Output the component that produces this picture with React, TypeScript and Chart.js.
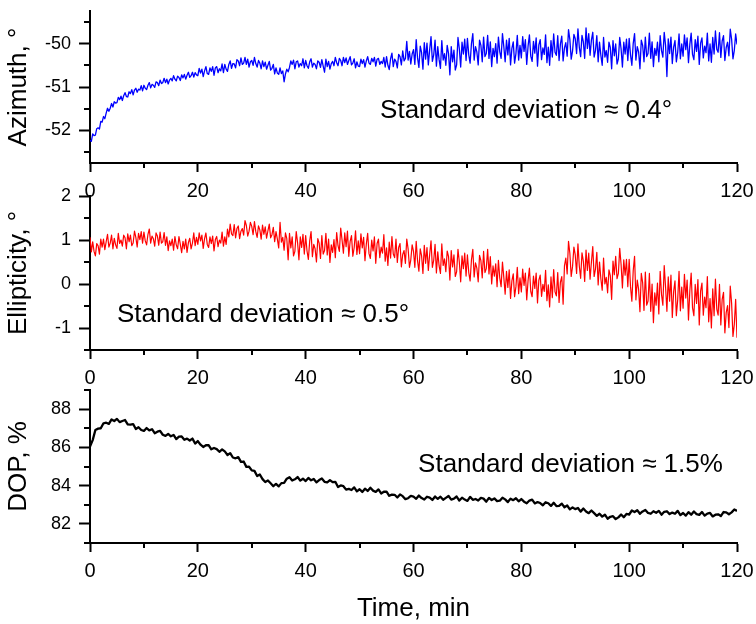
import React, { useEffect, useRef } from 'react';
import { Chart, registerables } from 'chart.js';

Chart.register(...registerables);

const FONT = '"Liberation Sans", Arial, Helvetica, sans-serif';

// sampling interval of each recorded series, minutes
const AZIMUTH_STEP_MIN = 0.25;
const ELLIPTICITY_STEP_MIN = 0.25;
const DOP_STEP_MIN = 0.5;

const X_TICKS = [0, 20, 40, 60, 80, 100, 120];
const X_MINOR = [10, 30, 50, 70, 90, 110];

const AZIMUTH_TICKS = [-52, -51, -50];
const AZIMUTH_MINOR = [-52.5, -51.5, -50.5, -49.5];
const ELLIPTICITY_TICKS = [-1, 0, 1, 2];
const ELLIPTICITY_MINOR = [-1.5, -0.5, 0.5, 1.5];
const DOP_TICKS = [82, 84, 86, 88];
const DOP_MINOR = [81, 83, 85, 87, 89];

// azimuth, degrees, every 0.25 min (20 values per 5 min row)
const AZIMUTH = [
  -52.23, -52.25, -52.08, -52.12, -52.11, -51.96, -51.94, -51.97, -51.79, -51.81, -51.68, -51.73, -51.6, -51.49, -51.56, -51.49, -51.38, -51.46, -51.34, -51.37,
  -51.36, -51.24, -51.29, -51.21, -51.31, -51.2, -51.13, -51.22, -51.23, -51.11, -51.15, -51.06, -51.18, -51.07, -51.03, -51.12, -51.05, -51.07, -50.97, -51.09,
  -50.96, -51.03, -51.06, -50.96, -50.9, -51.02, -50.94, -50.96, -51.01, -50.88, -50.9, -50.97, -50.84, -50.92, -50.9, -50.8, -50.9, -50.82, -50.93, -50.84,
  -50.8, -50.86, -50.74, -50.82, -50.86, -50.75, -50.78, -50.85, -50.72, -50.79, -50.71, -50.82, -50.73, -50.66, -50.78, -50.74, -50.66, -50.77, -50.67, -50.72,
  -50.74, -50.57, -50.68, -50.59, -50.76, -50.63, -50.53, -50.69, -50.71, -50.56, -50.64, -50.53, -50.73, -50.56, -50.53, -50.67, -50.58, -50.63, -50.47, -50.67,
  -50.48, -50.59, -50.64, -50.48, -50.4, -50.57, -50.46, -50.47, -50.56, -50.37, -50.4, -50.51, -50.33, -50.48, -50.45, -50.32, -50.48, -50.36, -50.54, -50.42,
  -50.39, -50.5, -50.32, -50.46, -50.54, -50.39, -50.45, -50.58, -50.4, -50.53, -50.43, -50.59, -50.5, -50.41, -50.61, -50.57, -50.48, -50.7, -50.56, -50.68,
  -50.71, -50.56, -50.69, -50.63, -50.88, -50.7, -50.59, -50.65, -50.55, -50.4, -50.48, -50.38, -50.58, -50.42, -50.4, -50.54, -50.46, -50.51, -50.35, -50.56,
  -50.39, -50.51, -50.57, -50.42, -50.35, -50.54, -50.45, -50.48, -50.58, -50.4, -50.43, -50.55, -50.37, -50.52, -50.66, -50.36, -50.53, -50.41, -50.59, -50.46,
  -50.41, -50.51, -50.32, -50.44, -50.51, -50.34, -50.39, -50.51, -50.32, -50.44, -50.33, -50.48, -50.39, -50.3, -50.49, -50.45, -50.35, -50.56, -50.42, -50.52,
  -50.53, -50.36, -50.46, -50.37, -50.54, -50.4, -50.3, -50.45, -50.48, -50.34, -50.42, -50.32, -50.52, -50.36, -50.34, -50.48, -50.41, -50.46, -50.32, -50.54,
  -50.3, -50.5, -50.6, -50.35, -50.22, -50.53, -50.36, -50.41, -50.56, -50.25, -50.3, -50.49, -50.17, -50.4, -50.34, -49.95, -50.38, -50.18, -50.47, -50.24,
  -50.14, -50.48, -49.91, -50.33, -50.55, -50.06, -50.21, -50.59, -49.98, -50.36, -49.99, -50.49, -50.14, -49.84, -50.41, -50.26, -49.92, -50.52, -50.07, -50.37,
  -50.57, -49.93, -50.38, -50.23, -50.5, -50.04, -50.23, -50.72, -50.07, -50.42, -50.15, -50.61, -50.49, -49.86, -50.12, -50.54, -49.97, -50.24, -49.9, -50.39,
  -49.88, -50.26, -50.45, -50.0, -49.77, -50.38, -50.07, -50.19, -50.49, -49.92, -50.04, -50.42, -49.85, -50.3, -50.23, -49.81, -50.34, -49.96, -50.53, -50.11,
  -50.3, -50.0, -50.45, -49.85, -50.19, -50.34, -49.77, -50.07, -50.42, -49.92, -50.26, -49.88, -50.49, -50.11, -49.96, -50.45, -50.23, -49.81, -50.38, -50.04,
  -50.33, -49.84, -50.18, -49.91, -50.48, -50.06, -49.8, -50.29, -50.41, -49.95, -50.22, -49.87, -50.52, -50.03, -49.91, -50.37, -50.1, -50.25, -49.8, -50.44,
  -50.08, -50.5, -49.93, -50.31, -49.78, -50.2, -50.27, -49.82, -50.39, -50.01, -49.83, -50.4, -50.1, -49.98, -50.29, -49.68, -49.91, -50.36, -50.17, -49.79,
  -49.89, -50.23, -49.66, -50.08, -50.3, -49.81, -49.96, -50.34, -49.64, -50.11, -49.77, -50.27, -49.92, -49.74, -50.31, -50.16, -49.82, -50.42, -49.97, -50.27,
  -50.5, -49.86, -50.31, -50.16, -50.43, -49.97, -50.09, -50.58, -49.93, -50.28, -50.01, -50.47, -50.35, -49.86, -50.12, -50.54, -49.97, -50.24, -49.9, -50.39,
  -49.88, -50.26, -50.5, -50.0, -49.77, -50.38, -50.07, -50.19, -50.58, -49.92, -50.04, -50.42, -49.85, -50.3, -50.23, -49.76, -50.34, -49.96, -50.53, -50.11,
  -50.27, -49.97, -50.42, -49.82, -50.16, -50.31, -49.74, -50.04, -50.76, -49.89, -50.23, -49.85, -50.46, -50.08, -49.93, -50.42, -50.2, -49.78, -50.35, -50.01,
  -50.29, -49.8, -50.14, -49.87, -50.44, -50.02, -49.76, -50.25, -50.37, -49.91, -50.18, -49.83, -50.48, -49.99, -49.87, -50.33, -50.06, -50.21, -49.76, -50.4,
  -50.01, -50.43, -49.86, -50.24, -49.71, -50.13, -50.2, -49.75, -50.32, -49.94, -49.82, -50.39, -50.09, -49.97, -50.28, -49.67, -49.9, -50.35, -50.16, -49.78,
  -50.02,
];

// ellipticity, degrees, every 0.25 min
const ELLIPTICITY = [
  1.06, 0.73, 0.96, 0.74, 0.64, 0.92, 0.87, 0.68, 1.02, 0.84, 1.02, 0.78, 0.96, 1.13, 0.84, 0.93, 1.11, 0.8, 1.04, 0.89,
  0.81, 1.15, 0.92, 1.0, 0.86, 1.11, 1.05, 0.8, 1.14, 0.96, 1.11, 0.87, 0.93, 1.2, 1.06, 0.84, 1.15, 1.01, 1.19, 0.93,
  1.18, 0.98, 0.89, 1.13, 1.25, 0.93, 1.09, 1.03, 0.86, 1.16, 1.09, 0.88, 1.18, 0.93, 0.96, 1.17, 0.88, 1.07, 0.76, 0.98,
  0.87, 1.02, 0.77, 1.08, 0.89, 0.8, 1.08, 0.9, 0.71, 0.97, 0.8, 1.02, 0.72, 0.94, 1.04, 0.8, 0.93, 1.16, 0.87, 1.06,
  0.9, 1.16, 0.98, 1.11, 0.81, 1.03, 1.16, 0.9, 0.83, 1.07, 0.92, 1.09, 0.75, 1.01, 1.08, 0.85, 1.0, 0.93, 1.18, 0.86,
  1.07, 0.9, 1.25, 1.07, 1.36, 1.14, 1.1, 1.35, 1.05, 1.26, 1.32, 1.03, 1.2, 1.26, 1.11, 1.44, 1.33, 1.09, 1.2, 1.4,
  1.31, 1.12, 1.42, 1.19, 1.06, 1.32, 1.23, 1.02, 1.34, 1.13, 1.3, 1.04, 1.21, 1.36, 1.05, 1.12, 1.29, 0.96, 1.19, 1.02,
  0.82, 1.4, 0.95, 1.06, 0.77, 1.16, 1.03, 0.55, 1.15, 0.82, 1.07, 0.64, 0.74, 1.19, 0.94, 0.55, 1.07, 0.83, 1.13, 0.68,
  1.1, 0.75, 0.56, 0.98, 1.19, 0.62, 0.9, 0.8, 0.5, 1.03, 0.93, 0.58, 1.1, 0.68, 0.76, 1.15, 0.66, 1.02, 0.49, 0.89,
  0.72, 1.01, 0.6, 1.17, 0.87, 0.74, 1.27, 1.0, 0.7, 1.16, 0.85, 1.2, 0.63, 0.97, 1.1, 0.63, 0.83, 1.21, 0.67, 0.98,
  0.69, 1.14, 0.82, 1.06, 0.53, 0.91, 1.15, 0.69, 0.58, 1.0, 0.75, 1.07, 0.47, 0.92, 1.02, 0.6, 0.84, 0.7, 1.12, 0.52,
  0.82, 0.42, 0.95, 0.59, 1.08, 0.68, 0.6, 1.02, 0.49, 0.83, 0.92, 0.39, 0.67, 0.76, 0.47, 1.02, 0.8, 0.38, 0.55, 0.89,
  0.74, 0.38, 0.97, 0.53, 0.29, 0.8, 0.64, 0.24, 0.88, 0.47, 0.83, 0.31, 0.67, 0.98, 0.38, 0.54, 0.9, 0.25, 0.73, 0.41,
  0.24, 0.91, 0.42, 0.57, 0.28, 0.75, 0.62, 0.09, 0.76, 0.39, 0.66, 0.17, 0.28, 0.79, 0.5, 0.05, 0.64, 0.35, 0.7, 0.18,
  0.66, 0.26, 0.07, 0.55, 0.79, 0.16, 0.48, 0.36, 0.05, 0.65, 0.53, 0.14, 0.74, 0.26, 0.35, 0.79, 0.23, 0.62, 0.0, 0.41,
  0.18, 0.46, -0.06, 0.54, 0.14, -0.06, 0.5, 0.15, -0.23, 0.29, -0.08, 0.32, -0.33, 0.07, 0.23, -0.29, -0.06, 0.38, -0.22, 0.14,
  -0.18, 0.34, -0.03, 0.25, -0.36, 0.08, 0.36, -0.17, -0.29, 0.18, -0.1, 0.25, -0.43, 0.09, 0.2, -0.28, -0.01, -0.17, 0.31, -0.38,
  -0.02, -0.52, 0.16, -0.31, 0.33, -0.18, -0.27, 0.26, -0.42, 0.04, 0.17, -0.46, 0.41, 0.59, 0.23, 0.97, 0.7, 0.17, 0.4, 0.84,
  0.66, 0.24, 0.91, 0.41, 0.13, 0.71, 0.52, 0.06, 0.77, 0.31, 0.7, 0.11, 0.5, 0.85, 0.17, 0.34, 0.72, -0.02, 0.5, 0.12,
  -0.14, 0.59, 0.0, 0.15, -0.2, 0.32, 0.19, -0.35, 0.52, 0.21, 0.63, 0.12, 0.24, 0.81, 0.45, -0.09, 0.55, 0.2, 0.56, -0.06,
  0.56, -0.06, -0.39, 0.3, 0.63, -0.36, 0.09, -0.12, -0.63, 0.24, 0.03, -0.6, 0.27, -0.48, -0.39, 0.24, -0.62, 0.0, -0.88, -0.2,
  -0.48, 0.02, -0.68, 0.29, -0.24, -0.48, 0.42, -0.07, -0.62, 0.16, -0.39, 0.2, -0.76, -0.17, 0.07, -0.72, -0.36, 0.29, -0.61, -0.07,
  -0.55, 0.22, -0.32, 0.09, -0.82, -0.16, 0.25, -0.54, -0.72, -0.01, -0.44, 0.1, -0.93, -0.16, 0.02, -0.71, -0.3, -0.54, 0.17, -0.86,
  -0.33, -1.0, -0.11, -0.72, 0.11, -0.57, -0.71, -0.01, -0.93, -0.35, -0.19, -1.11, -0.65, -0.49, -0.99, -0.05, -0.44, -1.19, -0.92, -0.35,
  -1.22,
];

// degree of polarization, %, every 0.5 min (20 values per 10 min row)
const DOP = [
  86.04, 86.38, 86.91, 86.98, 87.0, 87.26, 87.29, 87.23, 87.46, 87.38, 87.49, 87.32, 87.38, 87.43, 87.2, 87.19, 87.22, 86.96, 87.05, 86.91,
  86.86, 87.01, 86.89, 86.95, 86.74, 86.82, 86.86, 86.66, 86.6, 86.7, 86.58, 86.65, 86.43, 86.56, 86.57, 86.4, 86.46, 86.36, 86.46, 86.2,
  86.33, 86.14, 86.02, 86.11, 86.12, 85.9, 85.97, 85.91, 85.77, 85.89, 85.79, 85.6, 85.7, 85.47, 85.43, 85.49, 85.24, 85.26, 84.98, 84.99,
  84.8, 84.77, 84.5, 84.58, 84.34, 84.19, 84.27, 84.12, 83.97, 84.09, 83.96, 84.13, 84.14, 84.36, 84.44, 84.27, 84.33, 84.45, 84.26, 84.36,
  84.24, 84.4, 84.28, 84.35, 84.17, 84.29, 84.37, 84.2, 84.17, 84.29, 84.18, 84.2, 83.93, 84.01, 83.97, 83.79, 83.83, 83.77, 83.91, 83.7,
  83.81, 83.67, 83.84, 83.72, 83.89, 83.74, 83.67, 83.8, 83.59, 83.68, 83.69, 83.47, 83.53, 83.52, 83.38, 83.54, 83.45, 83.29, 83.34, 83.46,
  83.42, 83.31, 83.48, 83.35, 83.27, 83.42, 83.37, 83.25, 83.43, 83.31, 83.42, 83.26, 83.36, 83.46, 83.27, 83.32, 83.43, 83.22, 83.37, 83.27,
  83.2, 83.41, 83.26, 83.3, 83.22, 83.36, 83.32, 83.16, 83.36, 83.25, 83.33, 83.19, 83.21, 83.37, 83.28, 83.14, 83.32, 83.24, 83.34, 83.18,
  83.3, 83.16, 83.08, 83.22, 83.27, 83.07, 83.14, 83.09, 82.97, 83.13, 83.08, 82.94, 83.1, 82.93, 82.94, 83.06, 82.87, 82.96, 82.76, 82.86,
  82.77, 82.83, 82.64, 82.8, 82.65, 82.56, 82.7, 82.56, 82.42, 82.53, 82.38, 82.48, 82.27, 82.37, 82.4, 82.25, 82.34, 82.49, 82.35, 82.52,
  82.49, 82.7, 82.62, 82.71, 82.53, 82.65, 82.73, 82.57, 82.53, 82.66, 82.58, 82.68, 82.48, 82.63, 82.66, 82.51, 82.59, 82.53, 82.68, 82.46,
  82.57, 82.43, 82.61, 82.48, 82.65, 82.51, 82.47, 82.62, 82.43, 82.54, 82.57, 82.39, 82.48, 82.5, 82.41, 82.62, 82.6, 82.5, 82.6, 82.75,
  82.68,
];

type PanelSpec = {
  top: number;
  height: number;
  padTop: number;
  xAxisHeight: number;
  values: number[];
  step: number;
  color: string;
  lineWidth: number;
  yMin: number;
  yMax: number;
  yTicks: number[];
  yMinor: number[];
  yTitle: string;
  note: string;
  noteAt: { x: number; y: number };
  xTitle?: string;
};

const PANELS: PanelSpec[] = [
  {
    top: 0, height: 205, padTop: 11, xAxisHeight: 42,
    values: AZIMUTH, step: AZIMUTH_STEP_MIN, color: '#0000ff', lineWidth: 1.3,
    yMin: -52.75, yMax: -49.25, yTicks: AZIMUTH_TICKS, yMinor: AZIMUTH_MINOR,
    yTitle: 'Azimuth, °', note: 'Standard deviation ≈ 0.4°', noteAt: { x: 53.8, y: -51.72 },
  },
  {
    top: 185, height: 205, padTop: 11, xAxisHeight: 40,
    values: ELLIPTICITY, step: ELLIPTICITY_STEP_MIN, color: '#ff0000', lineWidth: 1.2,
    yMin: -1.5, yMax: 2, yTicks: ELLIPTICITY_TICKS, yMinor: ELLIPTICITY_MINOR,
    yTitle: 'Ellipticity, °', note: 'Standard deviation ≈ 0.5°', noteAt: { x: 5.0, y: -0.86 },
  },
  {
    top: 380, height: 244, padTop: 10, xAxisHeight: 81,
    values: DOP, step: DOP_STEP_MIN, color: '#000000', lineWidth: 2.3,
    yMin: 81, yMax: 89, yTicks: DOP_TICKS, yMinor: DOP_MINOR,
    yTitle: 'DOP, %', note: 'Standard deviation ≈ 1.5%', noteAt: { x: 60.85, y: 84.71 },
    xTitle: 'Time, min',
  },
];

const decorPlugin = {
  id: 'decor',
  afterDraw(chart: any, _args: any, opts: any) {
    const { ctx } = chart;
    const x = chart.scales.x;
    const y = chart.scales.y;
    ctx.save();
    ctx.strokeStyle = '#000';
    ctx.lineWidth = 2;
    for (const v of opts.xMinor as number[]) {
      const px = Math.round(x.getPixelForValue(v));
      ctx.beginPath();
      ctx.moveTo(px, x.top);
      ctx.lineTo(px, x.top + 5);
      ctx.stroke();
    }
    for (const v of opts.yMinor as number[]) {
      const py = Math.round(y.getPixelForValue(v));
      ctx.beginPath();
      ctx.moveTo(y.right, py);
      ctx.lineTo(y.right - 6, py);
      ctx.stroke();
    }
    ctx.font = `26px ${FONT}`;
    ctx.fillStyle = '#000';
    ctx.textAlign = 'left';
    ctx.textBaseline = 'alphabetic';
    ctx.fillText(opts.note, x.getPixelForValue(opts.noteAt.x), y.getPixelForValue(opts.noteAt.y));
    ctx.restore();
  },
};

function Panel({ spec }: { spec: PanelSpec }) {
  const ref = useRef<HTMLCanvasElement>(null);
  useEffect(() => {
    const canvas = ref.current;
    if (!canvas) return;
    const points = spec.values.map((v, i) => ({ x: i * spec.step, y: v }));
    const chart = new Chart(canvas, {
      type: 'line',
      data: {
        datasets: [
          {
            data: points,
            borderColor: spec.color,
            borderWidth: spec.lineWidth,
            borderJoinStyle: 'round',
            pointRadius: 0,
            tension: 0,
            fill: false,
          },
        ],
      },
      options: {
        animation: false,
        responsive: false,
        maintainAspectRatio: false,
        devicePixelRatio: 1,
        layout: { padding: { top: spec.padTop, left: 0, right: 19, bottom: 0 } },
        plugins: {
          legend: { display: false },
          tooltip: { enabled: false },
          // @ts-ignore
          decor: { xMinor: X_MINOR, yMinor: spec.yMinor, note: spec.note, noteAt: spec.noteAt },
        },
        scales: {
          x: {
            type: 'linear',
            min: 0,
            max: 120,
            afterBuildTicks: (s: any) => {
              s.ticks = X_TICKS.map((v) => ({ value: v }));
            },
            afterFit: (s: any) => {
              s.height = spec.xAxisHeight;
              s.paddingLeft = 0;
              s.paddingRight = 0;
            },
            border: { display: true, color: '#000', width: 2 },
            grid: {
              display: true,
              drawOnChartArea: false,
              drawTicks: true,
              tickLength: 9,
              tickWidth: 2,
              tickColor: '#000',
            },
            ticks: {
              color: '#000',
              font: { family: FONT, size: 20 },
              padding: 7,
              maxRotation: 0,
              autoSkip: false,
              callback: (v: any) => String(v),
            },
            title: {
              display: !!spec.xTitle,
              text: spec.xTitle || '',
              color: '#000',
              font: { family: FONT, size: 26 },
              padding: { top: 0, bottom: 0 },
            },
          },
          y: {
            type: 'linear',
            min: spec.yMin,
            max: spec.yMax,
            afterBuildTicks: (s: any) => {
              s.ticks = spec.yTicks.map((v) => ({ value: v }));
            },
            afterFit: (s: any) => {
              s.width = 90;
              s.paddingTop = 0;
              s.paddingBottom = 0;
            },
            border: { display: true, color: '#000', width: 2 },
            grid: {
              display: true,
              drawOnChartArea: false,
              drawTicks: true,
              tickLength: 11,
              tickWidth: 2,
              tickColor: '#000',
            },
            ticks: {
              color: '#000',
              font: { family: FONT, size: 18 },
              padding: 8,
              autoSkip: false,
              callback: (v: any) => String(v),
            },
            title: {
              display: true,
              text: spec.yTitle,
              color: '#000',
              font: { family: FONT, size: 26 },
              padding: { top: 3, bottom: 0 },
            },
          },
        },
      },
      plugins: [decorPlugin as any],
    } as any);
    return () => chart.destroy();
  }, [spec]);
  return (
    <canvas
      ref={ref}
      width={756}
      height={spec.height}
      style={{ position: 'absolute', left: 0, top: spec.top, width: 756, height: spec.height, display: 'block' }}
    />
  );
}

export default function App() {
  return (
    <div
      style={{
        position: 'absolute',
        left: 0,
        top: 0,
        width: 756,
        height: 624,
        background: '#ffffff',
        overflow: 'hidden',
      }}
    >
      {PANELS.map((p, i) => (
        <Panel key={i} spec={p} />
      ))}
    </div>
  );
}
